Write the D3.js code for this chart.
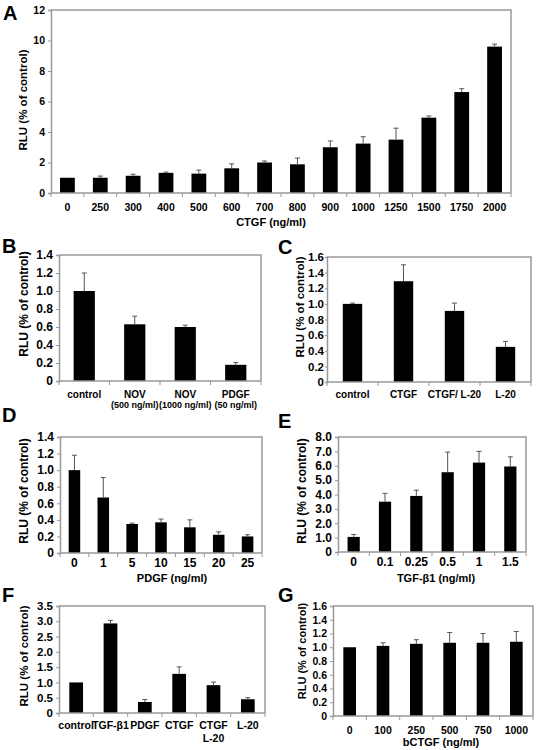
<!DOCTYPE html>
<html><head><meta charset="utf-8">
<script src="https://cdn.jsdelivr.net/npm/d3@7"></script>
<style>body{margin:0;background:#fff}svg{display:block}text{font-family:"Liberation Sans",Arial,sans-serif;font-weight:bold;fill:#000}</style>
</head><body>
<script>
// ---- data ----
const catsA = ["0","250","300","400","500","600","700","800","900","1000","1250","1500","1750","2000"];
const valsA = [1.0,1.0,1.13,1.32,1.27,1.62,2.0,1.88,3.0,3.24,3.5,4.94,6.62,9.6];
const errA  = [0,0.11,0.1,0.05,0.23,0.29,0.1,0.41,0.41,0.45,0.75,0.11,0.22,0.16];
const ticksA = [0,2,4,6,8,10,12];

const catsB = ["control","NOV","NOV","PDGF"];
const subB  = ["","(500 ng/ml)","(1000 ng/ml)","(50 ng/ml)"];
const valsB = [1.0,0.63,0.6,0.18];
const errB  = [0.2,0.09,0.02,0.025];
const ticksB = [0,0.2,0.4,0.6,0.8,1.0,1.2,1.4];

const catsC = ["control","CTGF","CTGF/ L-20","L-20"];
const valsC = [1.0,1.29,0.91,0.45];
const errC  = [0.01,0.21,0.1,0.07];
const ticksC = [0,0.2,0.4,0.6,0.8,1.0,1.2,1.4,1.6];

const catsD = ["0","1","5","10","15","20","25"];
const valsD = [1.0,0.67,0.35,0.37,0.31,0.22,0.2];
const errD  = [0.18,0.24,0.01,0.04,0.09,0.035,0.02];
const ticksD = [0,0.2,0.4,0.6,0.8,1.0,1.2,1.4];

const catsE = ["0","0.1","0.25","0.5","1","1.5"];
const valsE = [1.05,3.5,3.9,5.55,6.22,5.95];
const errE  = [0.17,0.58,0.4,1.4,0.78,0.67];
const ticksE = [0,1,2,3,4,5,6,7,8];

const catsF = [["control"],["TGF-β1"],["PDGF"],["CTGF"],["CTGF","L-20"],["L-20"]];
const valsF = [1.0,2.93,0.36,1.28,0.91,0.45];
const errF  = [0,0.1,0.08,0.23,0.1,0.05];
const ticksF = [0,0.5,1.0,1.5,2.0,2.5,3.0,3.5];

const catsG = ["0","100","250","500","750","1000"];
const valsG = [1.0,1.02,1.05,1.065,1.065,1.08];
const errG  = [0,0.045,0.06,0.15,0.135,0.15];
const ticksG = [0,0.2,0.4,0.6,0.8,1.0,1.2,1.4,1.6];

const svg = d3.select("body").append("svg").attr("width",537).attr("height",750);
const fmt1 = v => v===0 ? "0" : d3.format(".1f")(v);

function panel(o){
  const g = svg.append("g");
  const x = d3.scaleBand().domain(d3.range(o.vals.length)).range([o.l,o.r]).paddingInner(0).paddingOuter(0);
  const y = d3.scaleLinear().domain([0,d3.max(o.ticks)]).range([o.b,o.t]);
  const bw = x.bandwidth()*o.bar;
  g.append("path").attr("d",`M${o.l},${o.t}H${o.r}V${o.b}`).attr("fill","none").attr("stroke","#999").attr("stroke-width",1.5);
  g.selectAll("rect.bar").data(o.vals).join("rect")
    .attr("x",(d,i)=>x(i)+x.bandwidth()/2-bw/2).attr("width",bw)
    .attr("y",d=>y(d)).attr("height",d=>y(0)-y(d)).attr("fill","#000");
  o.vals.forEach((v,i)=>{
    const e=o.err[i]; if(!e) return;
    const cx=x(i)+x.bandwidth()/2;
    g.append("line").attr("x1",cx).attr("x2",cx).attr("y1",y(v)).attr("y2",y(v+e)).attr("stroke","#555").attr("stroke-width",1);
    g.append("line").attr("x1",cx-2.5).attr("x2",cx+2.5).attr("y1",y(v+e)).attr("y2",y(v+e)).attr("stroke","#555").attr("stroke-width",1);
  });
  const ya = g.append("g").attr("transform",`translate(${o.l},0)`)
    .call(d3.axisLeft(y).tickValues(o.ticks).tickFormat(o.fmt).tickSize(o.ts===undefined?3:o.ts).tickPadding(o.tp===undefined?3:o.tp));
  ya.select(".domain").attr("stroke","#999").attr("stroke-width",1.5);
  ya.selectAll(".tick line").attr("stroke","#999");
  ya.selectAll(".tick text").style("font-size",o.yfs+"px").attr("font-family",null);
  const xa = g.append("g").attr("transform",`translate(0,${o.b})`);
  xa.append("line").attr("x1",o.l).attr("x2",o.r).attr("stroke","#999").attr("stroke-width",1.5);
  d3.range(o.vals.length+1).forEach(i=>{
    const xx = i<o.vals.length ? x(i) : o.r;
    xa.append("line").attr("x1",xx).attr("x2",xx).attr("y1",0).attr("y2",4).attr("stroke","#999");
  });
  o.cats.forEach((c,i)=>{
    const lines = Array.isArray(c)?c:[c];
    lines.forEach((s,k)=>{
      xa.append("text").attr("x",x(i)+x.bandwidth()/2).attr("y",o.xdy+k*o.xlh).attr("text-anchor","middle")
        .attr("dominant-baseline","central").style("font-size",o.xfs+"px").text(s);
    });
    if(o.sub && o.sub[i]) xa.append("text").attr("x",x(i)+x.bandwidth()/2).attr("y",o.subdy).attr("text-anchor","middle")
        .attr("dominant-baseline","central").style("font-size",o.subfs+"px").text(o.sub[i]);
  });
  g.append("text").attr("transform",`translate(${o.ylx},${o.yly}) rotate(-90)`).attr("text-anchor","middle")
    .attr("dominant-baseline","central").style("font-size",o.ylfs+"px").text("RLU (% of control)");
  if(o.title) g.append("text").attr("x",o.tx).attr("y",o.ty).attr("text-anchor","middle").attr("dominant-baseline","central")
    .style("font-size",o.tfs+"px").text(o.title);
  g.append("text").attr("x",o.lx).attr("y",o.lyy).style("font-size","20px").text(o.letter);
}

panel({letter:"A",lx:3,lyy:20,l:51,r:511,t:10,b:193,cats:catsA,vals:valsA,err:errA,ticks:ticksA,fmt:d3.format("d"),
  bar:0.45,yfs:10.5,xfs:10.5,xdy:14,xlh:12,ylx:23,yly:100,ylfs:11.5,title:"CTGF (ng/ml)",tx:271,ty:222,tfs:11});
panel({letter:"B",lx:2,lyy:253,l:59,r:261,t:255,b:381,cats:catsB,sub:subB,vals:valsB,err:errB,ticks:ticksB,fmt:fmt1,
  bar:0.42,yfs:12,xfs:10,xdy:13,xlh:12,subdy:24,subfs:9,ylx:24,yly:304,ylfs:12});
panel({letter:"C",lx:278,lyy:254,l:327,r:531,t:257,b:382,cats:catsC,vals:valsC,err:errC,ticks:ticksC,fmt:fmt1,ts:2,tp:1,
  bar:0.38,yfs:11.5,xfs:10,xdy:12,xlh:12,ylx:300,yly:307,ylfs:11.5});
panel({letter:"D",lx:2,lyy:422,l:60,r:262,t:437,b:553,cats:catsD,vals:valsD,err:errD,ticks:ticksD,fmt:fmt1,
  bar:0.4,yfs:12,xfs:12,xdy:10,xlh:12,ylx:24,yly:491,ylfs:12,title:"PDGF (ng/ml)",tx:172,ty:578,tfs:11});
panel({letter:"E",lx:278,lyy:428,l:338,r:526,t:437,b:552,cats:catsE,vals:valsE,err:errE,ticks:ticksE,fmt:fmt1,
  bar:0.39,yfs:12,xfs:12,xdy:10,xlh:12,ylx:302,yly:491,ylfs:12,title:"TGF-β1 (ng/ml)",tx:436,ty:578,tfs:11});
panel({letter:"F",lx:2,lyy:602,l:59,r:265,t:606,b:713,cats:catsF,vals:valsF,err:errF,ticks:ticksF,fmt:fmt1,
  bar:0.4,yfs:11.5,xfs:10.5,xdy:12,xlh:13,ylx:24,yly:656,ylfs:11.5});
panel({letter:"G",lx:278,lyy:602,l:333,r:533,t:606,b:716,cats:catsG,vals:valsG,err:errG,ticks:ticksG,fmt:fmt1,
  bar:0.38,yfs:10.5,xfs:10.5,xdy:14,xlh:12,ylx:302,yly:651,ylfs:11,title:"bCTGF (ng/ml)",tx:441,ty:742,tfs:11});
</script>
</body></html>
